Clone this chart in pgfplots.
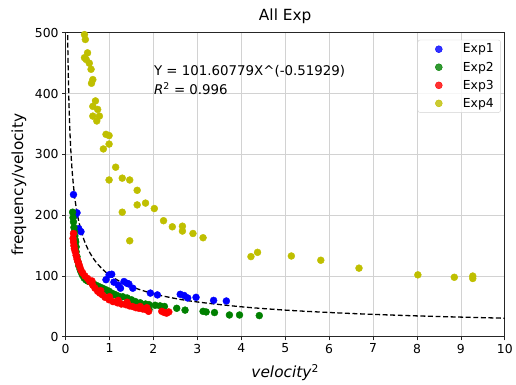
\documentclass[border=0pt]{standalone}
\usepackage{fontspec}
\setmainfont{DejaVu Sans}
\usepackage{pgfplots}
\pgfplotsset{compat=1.18}
\definecolor{mblue}{RGB}{0,0,255}
\definecolor{mgreen}{RGB}{0,128,0}
\definecolor{mred}{RGB}{255,0,0}
\definecolor{myellow}{RGB}{191,191,0}
\begin{document}
\begin{tikzpicture}
\begin{axis}[
  name=ax,
  scale only axis, width=442bp, height=306bp,
  xmin=0, xmax=10, ymin=0, ymax=500,
  xtick={0,1,...,10}, ytick={0,100,...,500},
  grid=major, grid style={color=gray!35, line width=0.8bp},
  axis line style={line width=0.9bp, black!85},
  tick align=outside, tick pos=left, major tick length=3.5bp,
  tick style={black!85, line width=0.8bp},
  /pgf/number format/assume math mode=true,
  ticklabel style={font=\fontsize{12.5}{14}\selectfont},
  title={All Exp},
  title style={font=\fontsize{15.5}{18}\selectfont, at={(axis description cs:0.5,1.0212)}, anchor=base},
  xlabel={\textit{velocity}\textsuperscript{2}},
  xlabel style={font=\fontsize{15.5}{18}\selectfont, at={(axis description cs:0.5,-0.134)}, anchor=base},
  ylabel={frequency/velocity},
  ylabel style={font=\fontsize{15.5}{18}\selectfont, at={(axis description cs:-0.0964,0.5)}, anchor=base},
  legend style={at={(axis description cs:0.991,0.977)}, anchor=north east,
    draw=gray!35, rounded corners=2.5bp, fill=white, fill opacity=0.8, text opacity=1,
    font=\fontsize{12.5}{14}\selectfont, inner xsep=5bp, inner ysep=2bp, row sep=3.5bp,
    cells={anchor=west}},
  legend image code/.code={\path (0bp,0bp) (38bp,0bp); \draw[#1] plot coordinates {(16bp,0bp)};},
  every axis plot/.append style={only marks, mark=*, mark size=3.5bp},
]
\addplot[mark options={draw=mblue, fill=mblue}] coordinates {
(0.18,234)(0.26,204)(0.22,200)(0.35,173)(0.30,178)(0.92,94)(0.99,102)(1.05,103)
(1.10,90)(1.20,85)(1.25,80)(1.33,91)(1.40,88)(1.44,87)(1.53,80)(1.93,72)(2.09,69)
(2.61,70)(2.70,68)(2.78,64)(2.97,65)(3.37,60)(3.66,59)};
\addlegendentry{Exp1}
\addplot[mark options={draw=mgreen, fill=mgreen}] coordinates {
(0.16,205)(0.17,196)(0.18,189)(0.19,180)(0.20,173)(0.21,166)(0.22,160)(0.23,156)
(0.24,148)(0.24,140)(0.26,132)(0.28,124)(0.30,117)(0.33,111)(0.35,107)(0.38,102)
(0.42,97)(0.46,94)(0.50,92)(0.54,91)(0.60,88)(0.65,86)(0.69,85)(0.75,83)(0.80,81)
(0.84,80)(0.90,78)(0.95,76)(0.99,75)(1.05,72)(1.10,70)(1.14,69)(1.20,67)(1.30,66)
(1.40,64)(1.50,61)(1.59,58)(1.70,56)(1.82,54)(1.90,53)(1.90,45)(2.04,52)(2.15,51)
(2.25,50)(2.53,47)(2.72,44)(3.13,42)(3.20,41)(3.39,40)(3.73,36)(3.96,36)(4.41,35)};
\addlegendentry{Exp2}
\addplot[mark options={draw=mred, fill=mred}] coordinates {
(0.18,170)(0.17,162)(0.18,156)(0.19,150)(0.20,145)(0.22,140)(0.24,134)(0.26,128)
(0.28,124)(0.30,120)(0.32,116)(0.35,110)(0.39,105)(0.44,100)(0.50,96)(0.55,91)
(0.62,85)(0.67,80)(0.73,75)(0.78,72)(0.84,69)(0.90,65)(0.99,61)(1.08,58)(1.18,56)
(1.27,54)(1.37,53)(1.45,51)(1.52,50)(1.60,48)(1.67,47)(1.75,46)(1.82,45)(1.89,42)
(1.85,48)(1.70,50)(2.19,42)(2.25,40)(2.30,39)(2.35,41)(0.60,92)(0.80,76)(1.00,66)
(1.20,60)(1.40,57)};
\addlegendentry{Exp3}
\addplot[mark options={draw=myellow, fill=myellow}] coordinates {
(0.43,497)(0.45,489)(0.50,467)(0.43,459)(0.47,456)(0.54,450)(0.58,440)(0.62,423)
(0.59,417)(0.68,388)(0.62,379)(0.73,374)(0.62,363)(0.77,363)(0.71,355)(0.92,333)
(0.99,331)(0.99,317)(0.86,309)(1.14,279)(0.99,258)(1.29,261)(1.46,258)(1.63,241)
(1.29,205)(1.63,217)(1.82,220)(2.02,211)(2.23,191)(2.43,181)(2.66,182)(2.66,174)
(2.90,170)(3.13,163)(1.46,158)(4.22,132)(4.37,139)(5.14,133)(5.81,126)(6.68,113)
(8.02,102)(8.85,98)(9.27,100)(9.27,96)};
\addlegendentry{Exp4}
\addplot[forget plot, no marks, sharp plot, smooth, black, line width=1.3bp, dash pattern=on 5bp off 2.6bp] coordinates {
(0.045,508.5)(0.05,481.4)(0.06,437.9)(0.07,404.3)(0.08,377.2)(0.1,335.9)(0.12,305.6)
(0.15,272.1)(0.2,234.4)(0.25,208.7)(0.3,189.9)(0.4,163.5)(0.5,145.6)(0.6,132.5)
(0.7,122.3)(0.85,110.6)(1,101.6)(1.25,90.5)(1.5,82.3)(2,70.9)(2.5,63.1)(3,57.4)
(4,49.5)(5,44.0)(6,40.1)(7,37.0)(8,34.5)(9,32.5)(10,30.7)};
\node[anchor=base west, font=\fontsize{13.5}{16}\selectfont, inner sep=0pt] at (axis cs:2.01,429.7) {Y = 101.60779X\^{}(-0.51929)};
\node[anchor=base west, font=\fontsize{13.5}{16}\selectfont, inner sep=0pt] at (axis cs:2.01,398.7) {\textit{R}\textsuperscript{2} = 0.996};
\end{axis}
\path ([xshift=-66bp,yshift=-46bp]ax.south west) rectangle ([xshift=8bp,yshift=33bp]ax.north east);
\end{tikzpicture}
\end{document}
